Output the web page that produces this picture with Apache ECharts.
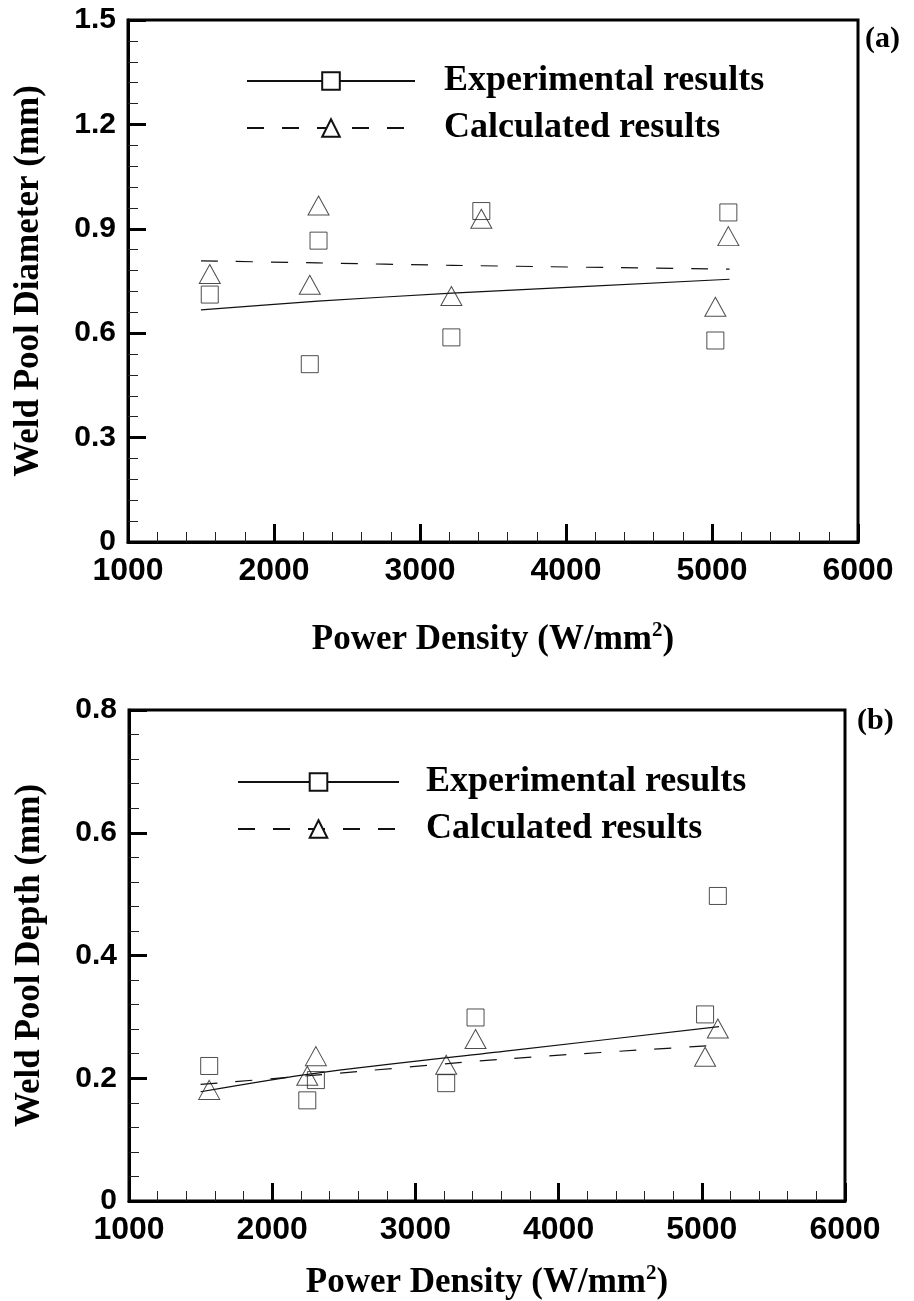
<!DOCTYPE html>
<html>
<head>
<meta charset="utf-8">
<script src="https://cdn.jsdelivr.net/npm/echarts@6/dist/echarts.min.js"></script>
<style>
  html, body { margin: 0; padding: 0; background: #fff; }
  #chart { width: 914px; height: 1301px; }
</style>
</head>
<body>
<div id="chart"></div>
<script>
// power density of the seven welds (W/mm2)
const powerDensity = [1560, 2245, 2305, 3215, 3420, 5023, 5112];

// (a) weld pool diameter (mm)
const diameterExp = [0.711, 0.511, 0.866, 0.588, 0.951, 0.579, 0.947];
const diameterCalc = [0.770, 0.739, 0.967, 0.707, 0.929, 0.676, 0.879];

// (b) weld pool depth (mm)
const depthExp = [0.220, 0.164, 0.197, 0.192, 0.299, 0.304, 0.497];
const depthCalc = [0.181, 0.204, 0.236, 0.222, 0.264, 0.235, 0.281];

// trend lines
const fitX = [1500, 2300, 3220, 5120];
const diameterExpFit = [0.667, 0.692, 0.715, 0.755];
const diameterCalcFit = [0.808, 0.802, 0.795, 0.784];
const depthFitX = [1500, 2300, 3660, 5120];
const depthExpFit = [0.178, 0.208, 0.245, 0.284];
const depthCalcFit = [0.190, 0.205, 0.232, 0.254];

const xTicks = { min: 1000, max: 6000, interval: 1000 };
const diameterTicks = { min: 0, max: 1.5, interval: 0.3 };
const depthTicks = { min: 0, max: 0.8, interval: 0.2 };

const serif = "'Liberation Serif', 'DejaVu Serif', serif";
const sans = "'Liberation Sans', Arial, sans-serif";

const pairs = (xs, ys) => xs.map((x, i) => [x, ys[i]]);

function xAxis(gridIndex, gap) {
  return {
    type: "value", gridIndex, ...xTicks,
    name: "Power Density (W/mm{sup|2})",
    nameLocation: "middle",
    nameGap: gap,
    nameTextStyle: {
      fontFamily: serif, fontWeight: "bold", fontSize: 35, color: "#000",
      rich: { sup: { fontFamily: serif, fontWeight: "bold", fontSize: 21, color: "#000", verticalAlign: "top", padding: [0, 0, 18, 0] } }
    },
    axisLine: { lineStyle: { color: "#000", width: 3 } },
    axisTick: { inside: true, length: 18, lineStyle: { color: "#000", width: 3 } },
    minorTick: { show: true, splitNumber: 5, length: 10, lineStyle: { color: "#222", width: 1 } },
    splitLine: { show: false },
    axisLabel: {
      fontFamily: sans, fontWeight: "bold", fontSize: 32, color: "#000", margin: 13,
      formatter: v => String(v)
    }
  };
}

function yAxis(gridIndex, ticks, name, gap) {
  return {
    type: "value", gridIndex, ...ticks,
    name,
    nameLocation: "middle",
    nameGap: gap,
    nameTextStyle: { fontFamily: serif, fontWeight: "bold", fontSize: 35, color: "#000" },
    axisLine: { lineStyle: { color: "#000", width: 3 } },
    axisTick: { inside: true, length: 18, lineStyle: { color: "#000", width: 3 } },
    minorTick: { show: true, splitNumber: 5, length: 10, lineStyle: { color: "#222", width: 1 } },
    splitLine: { show: false },
    axisLabel: {
      fontFamily: sans, fontWeight: "bold", fontSize: 30, color: "#000", margin: 12,
      formatter: v => (v === 0 ? "0" : v.toFixed(1))
    }
  };
}

const hollow = { color: "rgba(0,0,0,0)", borderColor: "#222", borderWidth: 1 };

function fitLine(name, idx, data, dashed) {
  return {
    name, type: "line", xAxisIndex: idx, yAxisIndex: idx, data,
    symbol: dashed ? "triangle" : "rect", showSymbol: false, silent: true,
    smooth: 0.3,
    itemStyle: { color: "#fff", borderColor: "#111", borderWidth: 1 },
    lineStyle: { color: "#111", width: 1.2, type: dashed ? [17, 18] : "solid" },
    z: 2
  };
}

function points(name, idx, data, tri) {
  return {
    name, type: "scatter", xAxisIndex: idx, yAxisIndex: idx, data,
    symbol: tri ? "triangle" : "rect",
    symbolSize: tri ? [21, 19] : [17, 17],
    itemStyle: hollow,
    z: 3
  };
}

function legend(left, top, width, pad) {
  return {
    data: ["Experimental results", "Calculated results"],
    orient: "vertical", left, top, padding: 0,
    itemWidth: width, itemHeight: 22, itemGap: 11,
    selectedMode: false,
    textStyle: { fontFamily: serif, fontWeight: "bold", fontSize: 36, color: "#000", padding: [0, 0, 0, pad] }
  };
}

const myChart = echarts.init(document.getElementById("chart"));

const option = {
  backgroundColor: "#fff",
  animation: false,
  grid: [
    { left: 128, top: 20, width: 730, height: 522, show: true, borderColor: "#000", borderWidth: 3 },
    { left: 129, top: 710, width: 716, height: 498, show: true, borderColor: "#000", borderWidth: 3 }
  ],
  xAxis: [xAxis(0, 78), xAxis(1, 62)],
  yAxis: [
    yAxis(0, diameterTicks, "Weld Pool Diameter (mm)", 82),
    yAxis(1, depthTicks, "Weld Pool Depth (mm)", 82)
  ],
  legend: [legend(246, 63, 168, 24), legend(237, 764, 161, 22)],
  graphic: [
    { type: "text", left: 865, top: 24, style: { text: "(a)", font: "bold 30px " + serif, fill: "#000" } },
    { type: "text", left: 857, top: 706, style: { text: "(b)", font: "bold 30px " + serif, fill: "#000" } }
  ],
  series: [
    fitLine("Experimental results", 0, pairs(fitX, diameterExpFit), false),
    fitLine("Calculated results", 0, pairs(fitX, diameterCalcFit), true),
    points("Experimental points", 0, pairs(powerDensity, diameterExp), false),
    points("Calculated points", 0, pairs(powerDensity, diameterCalc), true),
    fitLine("Experimental results", 1, pairs(depthFitX, depthExpFit), false),
    fitLine("Calculated results", 1, pairs(depthFitX, depthCalcFit), true),
    points("Experimental points", 1, pairs(powerDensity, depthExp), false),
    points("Calculated points", 1, pairs(powerDensity, depthCalc), true)
  ]
};

myChart.setOption(option);
</script>
</body>
</html>
